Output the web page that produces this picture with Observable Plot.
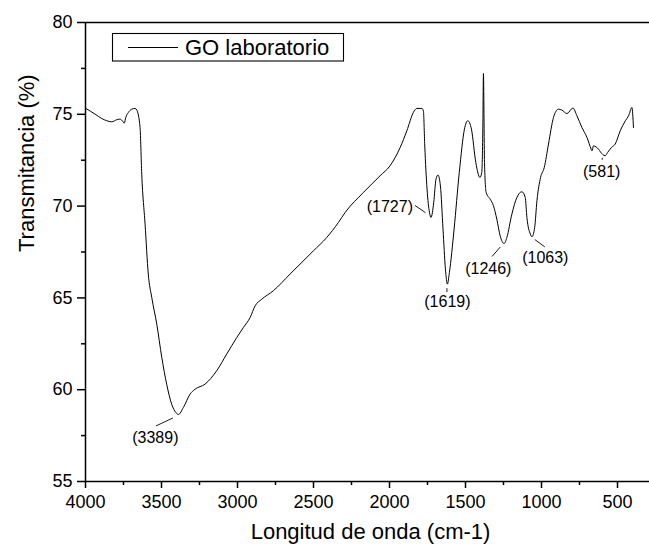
<!DOCTYPE html>
<html>
<head>
<meta charset="utf-8">
<script src="https://cdn.jsdelivr.net/npm/d3@7"></script>
<script src="https://cdn.jsdelivr.net/npm/@observablehq/plot@0.6"></script>
<style>
  html, body { margin: 0; padding: 0; background: #fff; overflow: hidden; }
  #chart { width: 649px; height: 551px; overflow: hidden; }
  #chart svg { max-width: none !important; width: 680px !important; height: 551px !important; }
</style>
</head>
<body>
<div id="chart"></div>
<script>
// FTIR spectrum of graphene oxide (GO) made in the lab
const wavenumber = [
  4000, 3937, 3893, 3860, 3828, 3795, 3773, 3758, 3745, 3735, 3718, 3696, 3674, 3663,
  3641, 3630, 3608, 3587, 3564, 3531, 3498, 3466, 3433, 3405, 3389, 3356, 3312, 3279,
  3214, 3137, 3071, 3005, 2961, 2917, 2884, 2840, 2764, 2654, 2501, 2413, 2336, 2292,
  2172, 2062, 1997, 1930, 1886, 1843, 1820, 1787, 1777, 1768, 1753, 1737, 1727, 1709,
  1694, 1681, 1665, 1648, 1632, 1619, 1606, 1575, 1541, 1507, 1485, 1461, 1432, 1405,
  1393, 1386, 1382, 1375, 1364, 1338, 1316, 1294, 1272, 1246, 1228, 1195, 1162, 1129,
  1107, 1096, 1073, 1063, 1045, 1030, 1006, 982, 954, 921, 888, 866, 833, 793,
  767, 734, 701, 673, 668, 658, 625, 612, 581, 565, 540, 515, 482, 448,
  427, 405, 395
];
const transmittance = [
  75.33, 75.01, 74.77, 74.65, 74.59, 74.70, 74.74, 74.65, 74.52, 74.83, 75.10, 75.28, 75.32, 75.24,
  74.28, 71.74, 69.02, 66.30, 65.02, 63.57, 61.75, 60.30, 59.21, 58.75, 58.65, 59.03, 59.76, 60.03,
  60.30, 61.03, 61.94, 62.84, 63.39, 63.93, 64.57, 64.93, 65.39, 66.30, 67.56, 68.29, 69.11, 69.65,
  70.74, 71.65, 72.19, 73.19, 74.10, 75.10, 75.32, 75.32, 75.19, 73.28, 70.93, 69.65, 69.38, 70.20,
  71.47, 71.69, 71.10, 68.75, 66.57, 65.75, 66.38, 68.75, 71.83, 74.19, 74.65, 74.19, 72.37, 71.56,
  71.83, 74.19, 77.22, 72.37, 70.74, 70.38, 70.02, 69.29, 68.38, 67.96, 68.29, 69.56, 70.47, 70.78,
  70.47, 69.38, 68.47, 68.33, 68.83, 70.29, 71.56, 72.10, 73.38, 74.83, 75.28, 75.23, 75.04, 75.34,
  74.92, 74.28, 73.74, 73.10, 73.01, 73.28, 73.10, 72.95, 72.74, 72.92, 73.19, 73.38, 74.10, 74.65,
  74.92, 75.37, 74.28
];
const seriesName = "GO laboratorio";

// Band positions that are labelled on the spectrum
const peakWavenumbers = [3389, 1727, 1619, 1246, 1063, 581];

// Axis ticks
const xTicks = [4000, 3500, 3000, 2500, 2000, 1500, 1000, 500];
const xMinorTicks = [3750, 3250, 2750, 2250, 1750, 1250, 750];
const yTicks = [55, 60, 65, 70, 75, 80];
const yMinorTicks = [57.5, 62.5, 67.5, 72.5, 77.5];

const xLabel = "Longitud de onda (cm-1)";
const yLabel = "Transmitancia (%)";

// Table for the line mark
const spectrum = wavenumber.map((w, i) => ({ w, t: transmittance[i] }));
const peaks = peakWavenumbers.map(w => ({
  w,
  t: transmittance[wavenumber.indexOf(w)],
  label: `(${w})`
}));

// Placement of each band label (pixel offsets from the band minimum) and its leader line
const labelLayout = [
  { dx: -23,  dy: 23.5, anchor: "middle", leader: [-5, 4, -22, 12] },
  { dx: -18,  dy: -10.5, anchor: "end",   leader: [-5, -4.3, -15.5, -11.5] },
  { dx: 0,    dy: 18,   anchor: "middle", leader: [0, 4.5, 0, 8.5] },
  { dx: -15.8, dy: 25,  anchor: "middle", leader: [-3.3, 4, -11.6, 13.4] },
  { dx: 13.4, dy: 21.6, anchor: "middle", leader: [3.4, 3.3, 13.4, 10.6] },
  { dx: -3.5, dy: 15.6, anchor: "middle", leader: [-2.5, 2.5, -2.5, 4.5] }
];

const font = "'Liberation Sans', Arial, Helvetica, sans-serif";

// Leader lines from each band to its label
function leaderLines(index, scales) {
  const g = d3.create("svg:g").attr("stroke", "black").attr("stroke-width", 0.9);
  peaks.forEach((p, i) => {
    const [a, b, c, d] = labelLayout[i].leader;
    const x = scales.x(p.w), y = scales.y(p.t);
    g.append("line")
      .attr("x1", x + a).attr("y1", y + b)
      .attr("x2", x + c).attr("y2", y + d);
  });
  return g.node();
}

// Boxed legend in the upper-left corner of the frame
function legendBox(index, scales, values, dimensions) {
  const x0 = dimensions.marginLeft, y0 = dimensions.marginTop;
  const g = d3.create("svg:g");
  g.append("rect")
    .attr("x", x0 + 27.5).attr("y", y0 + 11.5)
    .attr("width", 231).attr("height", 27.5)
    .attr("fill", "white").attr("stroke", "black").attr("stroke-width", 1.1);
  g.append("line")
    .attr("x1", x0 + 43).attr("x2", x0 + 93)
    .attr("y1", y0 + 25.5).attr("y2", y0 + 25.5)
    .attr("stroke", "black").attr("stroke-width", 1);
  g.append("text")
    .attr("x", x0 + 100).attr("y", y0 + 33)
    .attr("text-anchor", "start")
    .attr("font-size", 22).attr("font-family", font).attr("fill", "black")
    .text(seriesName);
  return g.node();
}

const chart = Plot.plot({
  width: 680,
  height: 551,
  marginLeft: 85,
  marginRight: 25,
  marginTop: 22,
  marginBottom: 70,
  style: { fontFamily: font, background: "white", color: "black", maxWidth: "none" },
  x: { domain: [4000, 250] },
  y: { domain: [55, 80] },
  marks: [
    Plot.line(spectrum, { x: "w", y: "t", stroke: "black", strokeWidth: 1, curve: "monotone-x" }),
    Plot.axisX({ ticks: xTicks, tickSize: 7, tickPadding: 7, fontSize: 18, strokeWidth: 1.5,
      tickFormat: d => String(d), label: null }),
    Plot.axisX({ ticks: xMinorTicks, tickSize: 4, strokeWidth: 1.5, tickFormat: () => "", label: null }),
    Plot.axisY({ ticks: yTicks, tickSize: 8, tickPadding: 5, fontSize: 18, strokeWidth: 1.5,
      tickFormat: d => String(d), label: null }),
    Plot.axisY({ ticks: yMinorTicks, tickSize: 4, strokeWidth: 1.5, tickFormat: () => "", label: null }),
    Plot.frame({ stroke: "black", strokeWidth: 1.5 }),
    leaderLines,
    ...peaks.map((p, i) => Plot.text([p], {
      x: "w", y: "t", text: "label",
      dx: labelLayout[i].dx, dy: labelLayout[i].dy,
      textAnchor: labelLayout[i].anchor,
      fontSize: 16, fill: "black"
    })),
    legendBox,
    Plot.text([xLabel], { frameAnchor: "bottom", dy: 57, fontSize: 22, fill: "black" }),
    Plot.text([yLabel], { frameAnchor: "left", dx: -59, rotate: -90, fontSize: 22, fill: "black" })
  ]
});

document.getElementById("chart").appendChild(chart);
</script>
</body>
</html>
